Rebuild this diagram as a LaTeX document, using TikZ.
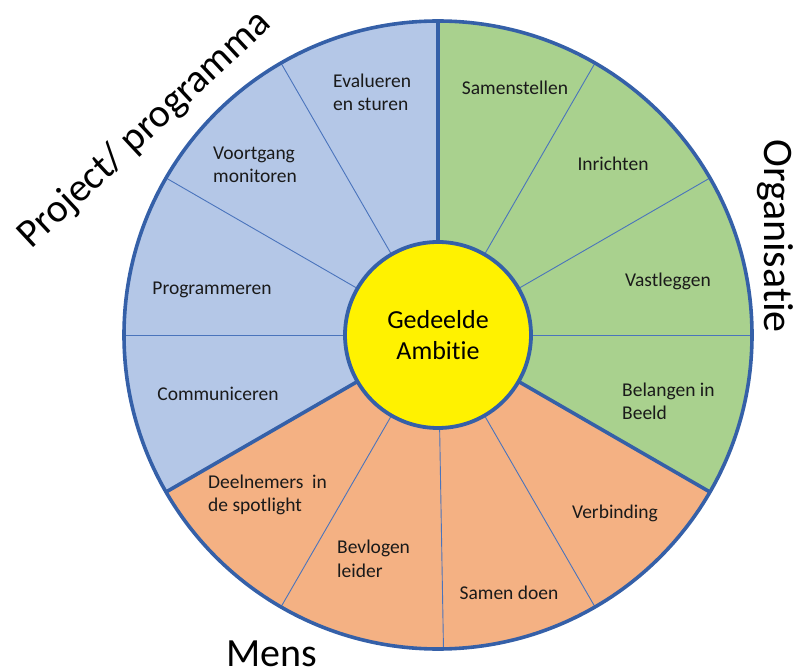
\documentclass[tikz,border=0pt]{standalone}
\usepackage{fontspec}
\setmainfont{Carlito}[Ligatures=NoCommon]
\usetikzlibrary{calc}
\definecolor{pblue}{HTML}{B4C7E7}
\definecolor{pgreen}{HTML}{A9D18E}
\definecolor{porange}{HTML}{F4B183}
\definecolor{pline}{HTML}{3560A8}
\definecolor{pthin}{HTML}{4A74BC}
\definecolor{ptext}{HTML}{1A1A1A}
\begin{document}
\begin{tikzpicture}[x=1pt,y=1pt,
  thinline/.style={draw=pthin, line width=0.9pt},
  thickline/.style={draw=pline, line width=3.6pt},
  lbl/.style={font=\fontsize{19.5}{23.5}\selectfont, text=ptext, inner sep=0pt},
  title/.style={font=\fontsize{40}{48}\selectfont, text=black, inner sep=0pt}]
\useasboundingbox (0,0) rectangle (811,670);
\coordinate (C) at (438,335);
% sectors
\fill[pblue]   (C) -- ++(90:314)  arc[start angle=90,  end angle=210, radius=314] -- cycle;
\fill[porange] (C) -- ++(210:314) arc[start angle=210, end angle=330, radius=314] -- cycle;
\fill[pgreen]  (C) -- ++(330:314) arc[start angle=330, end angle=450, radius=314] -- cycle;
% thin dividers
\foreach \a in {120,150,180,60,30,0,240,271,300}
  \draw[thinline] ($(C)+(\a:92)$) -- ($(C)+(\a:314)$);
% thick dividers
\foreach \a in {90,210,330}
  \draw[thickline] ($(C)+(\a:92)$) -- ($(C)+(\a:314)$);
% outer ring
\draw[thickline] (C) circle[radius=314];
% centre
\node[circle, fill=yellow, draw=pline, line width=3.8pt, minimum size=186pt, inner sep=0pt,
      align=center, font=\fontsize{26}{31}\selectfont, text=black] (amb) at (C) {Gedeelde\\Ambitie};
% labels
\node[lbl] (samen) at (515,582) {Samenstellen};
\node[lbl] (inr) at (613,506) {Inrichten};
\node[lbl] (vast) at (668,389) {Vastleggen};
\node[lbl, anchor=west, align=left] (bel) at (622,268.5) {Belangen in\\Beeld};
\node[lbl] (verb) at (615,157) {Verbinding};
\node[lbl] (sdoen) at (509,77) {Samen doen};
\node[lbl, anchor=west, align=left] (bevl) at (337,111) {Bevlogen\\leider};
\node[lbl, anchor=west, align=left] (deel) at (208,175) {Deelnemers\hspace{0.45em}in\\de spotlight};
\node[lbl] (comm) at (218,276) {Communiceren};
\node[lbl] (prog) at (212,380) {Programmeren};
\node[lbl, anchor=west, align=left] (voort) at (213,505) {Voortgang\\monitoren};
\node[lbl, anchor=west, align=left] (eval) at (333,577.5) {Evalueren\\en sturen};
% titles
\node[title, rotate=-90, font=\fontsize{42}{50}\selectfont] (org) at (775,434) {Organisatie};
\node[title, anchor=base] (mens) at (272,4) {Mens};
\node[title, rotate=43] (proj) at (145,540) {Project/ programma};
\end{tikzpicture}
\end{document}
